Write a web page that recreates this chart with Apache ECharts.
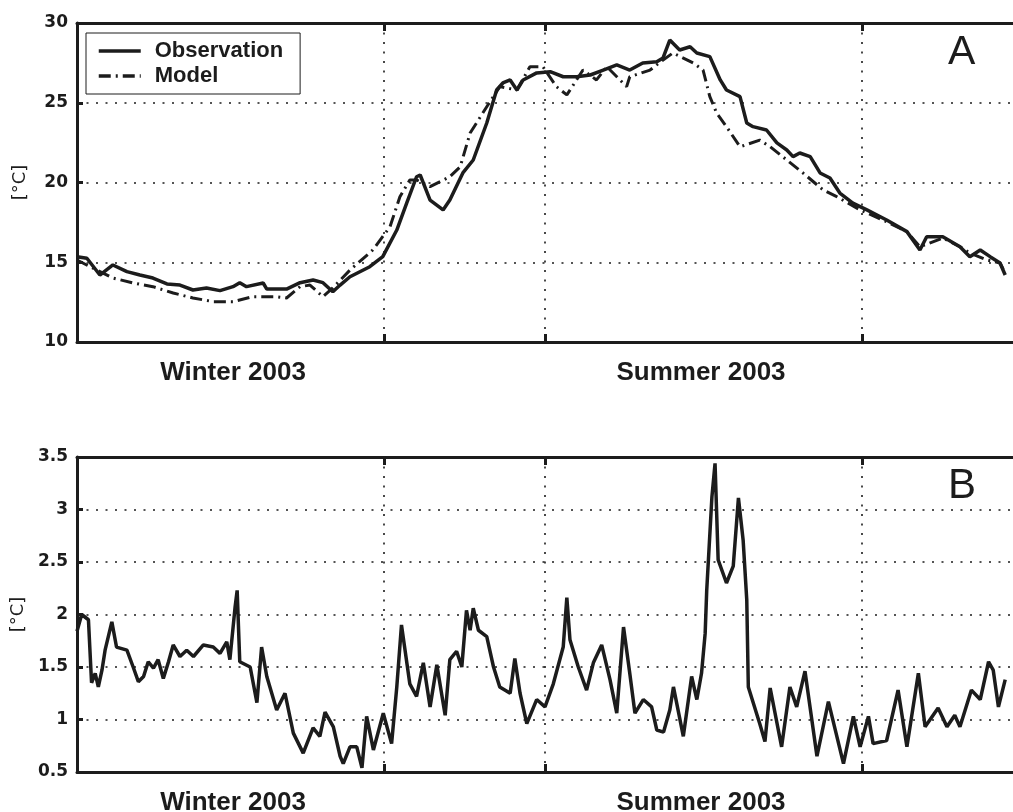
<!DOCTYPE html>
<html>
<head>
<meta charset="utf-8">
<script src="https://cdn.jsdelivr.net/npm/echarts@6/dist/echarts.min.js"></script>
<style>
  html, body { margin: 0; padding: 0; background: #fff; }
</style>
</head>
<body>
<div id="chart-container" style="width: 1013px; height: 812px"></div>
<script>
// x axis in days from the start of the record
const gridDays = [59, 90, 151];
const seasonDays = [30, 120];
const seasonLabels = ["Winter 2003", "Summer 2003"];

// panel A: temperature [°C]
const obsDays = [0, 1.9, 4.4, 6.9, 9.6, 12.1, 14.6, 17.3, 19.8, 22.3, 24.9, 27.5, 30, 31.3, 32.6, 35.8, 36.5, 40.3, 42.9, 45.4, 47.3, 49.2, 50.6, 52.5, 56.3, 58.8, 61.5, 63.4, 65.3, 66, 67.9, 70.4, 71.7, 74.2, 76.2, 78.8, 80.7, 81.9, 83.3, 84.6, 85.8, 88.4, 91, 93.5, 96.1, 98.7, 101.2, 103.8, 106.3, 108.8, 111.5, 112.7, 114, 115.9, 117.9, 119.2, 121.7, 123.7, 124.9, 127.5, 128.8, 130, 132.6, 134.6, 136.5, 137.7, 139, 141, 142.9, 144.8, 146.7, 149.2, 151.9, 155.7, 159.6, 162.1, 163.4, 166.5, 169.8, 171.7, 173.7, 175.6, 177.5, 178.5];
const obsTemp = [15.35, 15.25, 14.2, 14.83, 14.41, 14.2, 14.01, 13.64, 13.57, 13.26, 13.39, 13.22, 13.47, 13.72, 13.47, 13.7, 13.32, 13.32, 13.72, 13.89, 13.72, 13.15, 13.57, 14.09, 14.72, 15.35, 17.02, 18.71, 20.36, 20.47, 18.9, 18.28, 18.9, 20.6, 21.41, 23.73, 25.8, 26.24, 26.43, 25.8, 26.43, 26.87, 26.95, 26.63, 26.63, 26.74, 27.05, 27.37, 27.05, 27.49, 27.57, 27.81, 28.93, 28.31, 28.51, 28.12, 27.89, 26.43, 25.8, 25.38, 23.73, 23.5, 23.29, 22.48, 22.04, 21.62, 21.85, 21.62, 20.6, 20.28, 19.34, 18.71, 18.28, 17.65, 16.92, 15.77, 16.6, 16.6, 15.97, 15.35, 15.77, 15.35, 14.95, 14.2];

const modelDays = [0, 2.5, 6.9, 10.8, 14.6, 18.5, 22.3, 26.2, 30, 33.8, 38.4, 40.3, 42.9, 44.8, 47.3, 49.2, 52.5, 56.9, 60.2, 62.1, 64, 65.3, 67.9, 71.7, 73.7, 75.6, 78.8, 81.3, 84.6, 87.1, 89.6, 92.2, 94.2, 97.3, 99.9, 101.9, 105.7, 106.3, 110.2, 112.7, 114.6, 118.5, 120.4, 121.7, 123, 124.9, 127.5, 131.3, 133.3, 136.5, 139.6, 143.5, 146.1, 150.6, 155.7, 159.6, 162.1, 166.5, 169.8, 171.7, 175, 177.5, 178.5];
const modelTemp = [15.14, 14.72, 14.01, 13.7, 13.47, 13.07, 12.76, 12.53, 12.53, 12.84, 12.84, 12.76, 13.47, 13.57, 12.84, 13.39, 14.51, 15.77, 17.23, 19.11, 20.16, 20.16, 19.74, 20.36, 20.99, 23.1, 24.75, 26.01, 25.8, 27.26, 27.26, 26.01, 25.49, 27.05, 26.43, 27.26, 26.01, 26.63, 27.05, 27.68, 28.12, 27.49, 27.05, 25.38, 24.36, 23.5, 22.24, 22.66, 22.24, 21.41, 20.6, 19.53, 19.11, 18.28, 17.54, 16.92, 15.97, 16.52, 15.97, 15.58, 15.14, 14.95, 14.33];

// panel B: [°C]
const diffDays = [0, 0.9, 2.2, 2.8, 3.5, 4.1, 4.8, 5.4, 6.7, 7.6, 9.6, 10.8, 11.8, 12.8, 13.7, 14.7, 15.6, 16.6, 17.6, 18.5, 19.8, 21.1, 22.4, 24.3, 26.2, 27.5, 28.8, 29.4, 30.4, 30.8, 31.3, 33.3, 34.6, 35.5, 36.5, 38.4, 40, 41.6, 43.5, 45.4, 46.7, 47.7, 49.3, 50.6, 51.2, 52.5, 53.8, 54.8, 55.7, 57, 58.9, 60.5, 61.5, 62.4, 64, 65.3, 66.6, 67.9, 69.2, 70.8, 71.7, 73, 74, 74.9, 75.6, 76.2, 77.2, 78.8, 80.1, 81.3, 83.3, 84.2, 85.2, 86.5, 88.4, 90, 91.6, 93.5, 94.2, 94.8, 96.4, 98, 99.3, 100.9, 102.5, 103.8, 105.1, 106.3, 107.3, 108.9, 110.5, 111.5, 112.8, 114, 114.7, 116.6, 118.2, 119.2, 120.1, 120.8, 121.1, 122.1, 122.7, 123.3, 124.9, 126.2, 127.2, 128.1, 128.8, 129.1, 131.3, 132.3, 133.3, 135.5, 137.1, 138.4, 140, 142.3, 144.5, 147.4, 149.3, 150.6, 152.2, 153.1, 155.7, 157.9, 159.6, 161.8, 163.1, 165.6, 167.3, 168.8, 169.8, 172, 173.7, 175.3, 176.2, 177.2, 178.5];
const diffValues = [1.84, 2.0, 1.95, 1.35, 1.44, 1.31, 1.47, 1.66, 1.93, 1.69, 1.66, 1.5, 1.36, 1.41, 1.55, 1.49, 1.57, 1.39, 1.55, 1.71, 1.6, 1.66, 1.6, 1.71, 1.69, 1.63, 1.74, 1.57, 2.07, 2.23, 1.55, 1.5, 1.16, 1.69, 1.41, 1.09, 1.25, 0.87, 0.68, 0.92, 0.84, 1.07, 0.93, 0.65, 0.58, 0.74, 0.74, 0.54, 1.03, 0.71, 1.06, 0.77, 1.31, 1.9, 1.34, 1.22, 1.54, 1.12, 1.52, 1.04, 1.57, 1.65, 1.5, 2.04, 1.85, 2.06, 1.85, 1.79, 1.5, 1.31, 1.25, 1.58, 1.25, 0.96, 1.19, 1.12, 1.34, 1.69, 2.16, 1.76, 1.5, 1.28, 1.54, 1.71, 1.38, 1.06, 1.88, 1.44, 1.06, 1.19, 1.12, 0.9, 0.88, 1.09, 1.31, 0.84, 1.41, 1.19, 1.44, 1.82, 2.23, 3.12, 3.44, 2.52, 2.3, 2.46, 3.11, 2.71, 2.14, 1.31, 0.96, 0.79, 1.3, 0.74, 1.31, 1.12, 1.46, 0.65, 1.17, 0.58, 1.03, 0.74, 1.03, 0.77, 0.8, 1.28, 0.74, 1.44, 0.93, 1.11, 0.93, 1.04, 0.93, 1.28, 1.19, 1.55, 1.47, 1.12, 1.38];

function pairs(xs, ys) {
  return xs.map((x, i) => [x, ys[i]]);
}

const ink = "#1c1c1c";
const dotted = { color: ink, width: 1.6, type: [2, 7.5] };
const tickFont = { color: ink, fontFamily: "DejaVu Sans", fontWeight: "bold", fontSize: 17 };

function bottomAxis(gridIndex) {
  return {
    type: "value",
    gridIndex: gridIndex,
    min: 0,
    max: 180,
    position: "bottom",
    axisLine: { onZero: false, lineStyle: { color: ink, width: 3 } },
    axisTick: { show: true, inside: true, length: 8, customValues: gridDays, lineStyle: { color: ink, width: 3 } },
    axisLabel: {
      customValues: seasonDays,
      margin: 18,
      color: ink,
      fontFamily: "Liberation Sans",
      fontWeight: "bold",
      fontSize: 26,
      formatter: (v) => seasonLabels[seasonDays.indexOf(v)],
    },
    splitLine: { show: true, lineStyle: dotted },
  };
}

function topAxis(gridIndex) {
  return {
    type: "value",
    gridIndex: gridIndex,
    min: 0,
    max: 180,
    position: "top",
    axisLine: { onZero: false, lineStyle: { color: ink, width: 3 } },
    axisTick: { show: true, inside: true, length: 8, customValues: gridDays, lineStyle: { color: ink, width: 3 } },
    axisLabel: { show: false },
    splitLine: { show: false },
  };
}

function leftAxis(gridIndex, min, max, interval) {
  return {
    type: "value",
    gridIndex: gridIndex,
    min: min,
    max: max,
    interval: interval,
    name: "[°C]",
    nameLocation: "middle",
    nameGap: 48,
    nameTextStyle: { color: ink, fontFamily: "DejaVu Sans", fontSize: 18 },
    axisLine: { show: true, onZero: false, lineStyle: { color: ink, width: 3 } },
    axisTick: { show: true, inside: true, length: 6, lineStyle: { color: ink, width: 3 } },
    axisLabel: Object.assign({ margin: 9 }, tickFont),
    splitLine: { show: true, lineStyle: dotted },
  };
}

const option = {
  animation: false,
  backgroundColor: "#fff",
  title: [
    { text: "A", left: 943, top: 27, textStyle: { color: ink, fontFamily: "Liberation Sans", fontWeight: "normal", fontSize: 41 } },
    { text: "B", left: 943, top: 460, textStyle: { color: ink, fontFamily: "Liberation Sans", fontWeight: "normal", fontSize: 42 } },
  ],
  legend: {
    left: 86,
    top: 33,
    orient: "vertical",
    data: ["Observation", "Model"],
    borderColor: ink,
    borderWidth: 1,
    borderRadius: 0,
    padding: [7, 17, 7, 11],
    itemGap: 3,
    itemWidth: 42,
    itemHeight: 23,
    itemStyle: { opacity: 0 },
    lineStyle: { width: 3.5 },
    textStyle: { color: ink, fontFamily: "Liberation Sans", fontWeight: "bold", fontSize: 22, padding: [0, 0, 0, 9] },
  },
  grid: [
    { left: 77, right: 0, top: 23, height: 319, outerBoundsMode: "none" },
    { left: 77, right: 0, top: 457, height: 315, outerBoundsMode: "none" },
  ],
  xAxis: [bottomAxis(0), topAxis(0), bottomAxis(1), topAxis(1)],
  yAxis: [leftAxis(0, 10, 30, 5), leftAxis(1, 0.5, 3.5, 0.5)],
  series: [
    {
      name: "Observation",
      type: "line",
      xAxisIndex: 0,
      yAxisIndex: 0,
      symbol: "none",
      lineStyle: { color: ink, width: 3.5 },
      itemStyle: { color: ink, opacity: 0 },
      data: pairs(obsDays, obsTemp),
    },
    {
      name: "Model",
      type: "line",
      xAxisIndex: 0,
      yAxisIndex: 0,
      symbol: "none",
      lineStyle: { color: ink, width: 3, type: [12, 5, 2, 5] },
      itemStyle: { color: ink, opacity: 0 },
      data: pairs(modelDays, modelTemp),
    },
    {
      name: "Difference",
      type: "line",
      xAxisIndex: 2,
      yAxisIndex: 1,
      symbol: "none",
      lineStyle: { color: ink, width: 3.5 },
      itemStyle: { color: ink },
      data: pairs(diffDays, diffValues),
    },
  ],
};

let myChart = echarts.init(document.getElementById("chart-container"));
myChart.setOption(option);
</script>
</body>
</html>
